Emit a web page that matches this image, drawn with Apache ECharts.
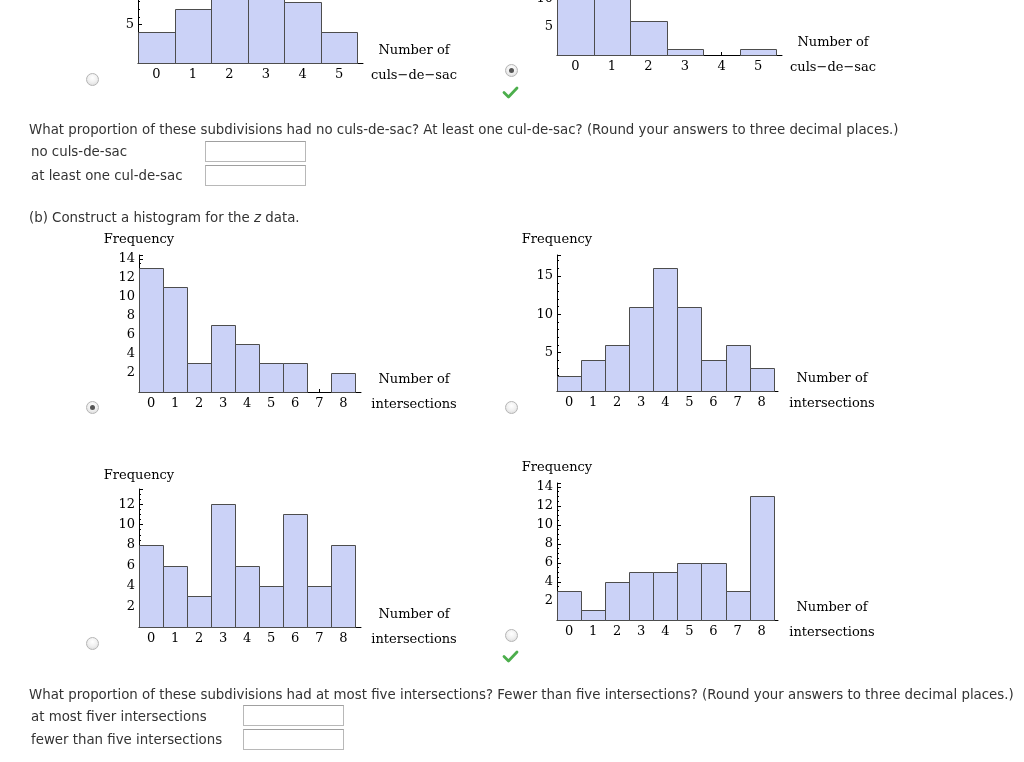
<!DOCTYPE html>
<html>
<head>
<meta charset="utf-8">
<script src="https://cdn.jsdelivr.net/npm/echarts@6/dist/echarts.min.js"></script>
<style>
  html, body { margin:0; padding:0; background:#fff; }
  #page { position:relative; width:1024px; height:762px; overflow:hidden; }
  #chart { position:absolute; left:0; top:-100px; width:1024px; height:862px; }
  .t { position:absolute; font-family:"DejaVu Sans", Verdana, sans-serif; font-size:13.35px; color:#333; line-height:16px; white-space:nowrap; z-index:2; }
  .box { position:absolute; width:99px; height:19px; border:1px solid #b8b8b8; border-top-color:#a0a0a0; background:#fff; box-sizing:border-box; z-index:2; }
  .radio { position:absolute; width:13px; height:13px; border-radius:50%; box-sizing:border-box; border:1px solid #b4b4b4;
           background:radial-gradient(circle at 50% 35%, #ffffff 0%, #f0f0f0 50%, #d6d6d6 100%); z-index:2; }
  .radio.on::after { content:""; position:absolute; left:3px; top:3px; width:5px; height:5px; border-radius:50%; background:#555; }
  .chk { position:absolute; z-index:2; }
</style>
</head>
<body>
<div id="page">
  <div id="chart"></div>

  <div class="radio" style="left:86px; top:73px;"></div>
  <div class="radio on" style="left:505px; top:64px;"></div>
  <svg class="chk" style="left:502px; top:86px;" width="17" height="13"><polyline points="2,6.5 6.5,11 15,2" fill="none" stroke="#4cae4c" stroke-width="2.8" stroke-linejoin="round" stroke-linecap="round"/></svg>

  <div class="t" style="left:29px; top:122px;">What proportion of these subdivisions had no culs-de-sac? At least one cul-de-sac? (Round your answers to three decimal places.)</div>
  <div class="t" style="left:31px; top:144px;">no culs-de-sac</div>
  <div class="box" style="left:205px; top:141px; width:101px; height:21px;"></div>
  <div class="t" style="left:31px; top:168px;">at least one cul-de-sac</div>
  <div class="box" style="left:205px; top:165px; width:101px; height:21px;"></div>
  <div class="t" style="left:29px; top:210px;">(b) Construct a histogram for the <i>z</i> data.</div>

  <div class="radio on" style="left:86px; top:401px;"></div>
  <div class="radio" style="left:505px; top:401px;"></div>
  <div class="radio" style="left:86px; top:637px;"></div>
  <div class="radio" style="left:505px; top:629px;"></div>
  <svg class="chk" style="left:502px; top:650px;" width="17" height="13"><polyline points="2,6.5 6.5,11 15,2" fill="none" stroke="#4cae4c" stroke-width="2.8" stroke-linejoin="round" stroke-linecap="round"/></svg>

  <div class="t" style="left:29px; top:687px;">What proportion of these subdivisions had at most five intersections? Fewer than five intersections? (Round your answers to three decimal places.)</div>
  <div class="t" style="left:31px; top:709px;">at most fiver intersections</div>
  <div class="box" style="left:243px; top:705px; width:101px; height:21px;"></div>
  <div class="t" style="left:31px; top:732px;">fewer than five intersections</div>
  <div class="box" style="left:243px; top:729px; width:101px; height:21px;"></div>
</div>

<script>
// ---- data ----
const culsCats = [0, 1, 2, 3, 4, 5];
const culsOptionA = [4, 7, 14, 16, 8, 4];   // bars 2 and 3 are cut off in the picture (estimated)
const culsOptionB = [17, 22, 6, 1, 0, 1];
const interCats = [0, 1, 2, 3, 4, 5, 6, 7, 8];
const interOptionA = [13, 11, 3, 7, 5, 3, 3, 0, 2];
const interOptionB = [2, 4, 6, 11, 16, 11, 4, 6, 3];
const interOptionC = [8, 6, 3, 12, 6, 4, 11, 4, 8];
const interOptionD = [3, 1, 4, 5, 5, 6, 6, 3, 13];
const yTitle = 'Frequency';
const culsTitle = 'Number of\nculs\u2212de\u2212sac';
const interTitle = 'Number of\nintersections';

// ---- layout of the six panels (pixels, chart canvas starts 100px above the page) ----
const OFF = 100;
const panels = [
  { cats: culsCats,  vals: culsOptionA,  xName: culsTitle,  left:138, top:-73, width:225, height:136, xmax:5.653, ymax:17.7,  yInt:5, minor:5, nameGap:51, yGap:9 },
  { cats: culsCats,  vals: culsOptionB,  xName: culsTitle,  left:557, top:-81, width:225, height:136, xmax:5.653, ymax:23.45, yInt:5, minor:5, nameGap:51, yGap:9 },
  { cats: interCats, vals: interOptionA, xName: interTitle, left:139, top:255, width:222, height:137, xmax:8.735, ymax:14.42, yInt:2, minor:4, nameGap:53, yGap:9 },
  { cats: interCats, vals: interOptionB, xName: interTitle, left:557, top:255, width:221, height:136, xmax:8.68,  ymax:17.73, yInt:5, minor:5, nameGap:54, yGap:9 },
  { cats: interCats, vals: interOptionC, xName: interTitle, left:139, top:489, width:222, height:138, xmax:8.735, ymax:13.48, yInt:2, minor:4, nameGap:53, yGap:7 },
  { cats: interCats, vals: interOptionD, xName: interTitle, left:557, top:483, width:221, height:137, xmax:8.68,  ymax:14.42, yInt:2, minor:4, nameGap:54, yGap:9 }
];

const FONT = 'DejaVu Serif';
const grid = [], xAxis = [], yAxis = [], series = [];
panels.forEach((p, i) => {
  grid.push({ left: p.left, top: p.top + OFF, width: p.width, height: p.height, containLabel: false });
  xAxis.push({
    gridIndex: i, type: 'value', min: -0.5, max: p.xmax,
    axisLine: { show: true, onZero: false, lineStyle: { color: '#000', width: 1 } },
    axisTick: { show: true, inside: true, length: 3, customValues: p.cats, lineStyle: { color: '#000' } },
    axisLabel: { customValues: p.cats, fontFamily: FONT, fontSize: 13, color: '#000', margin: 5 },
    splitLine: { show: false },
    name: p.xName, nameLocation: 'end', nameGap: p.nameGap,
    nameTextStyle: { fontFamily: FONT, fontSize: 13, color: '#000', align: 'center', verticalAlign: 'middle', lineHeight: 25 }
  });
  yAxis.push({
    gridIndex: i, type: 'value', min: 0, max: p.ymax, interval: p.yInt,
    axisLine: { show: true, onZero: false, lineStyle: { color: '#000', width: 1 } },
    axisTick: { show: true, inside: true, length: 4, lineStyle: { color: '#000' } },
    minorTick: { show: true, splitNumber: p.minor, length: 2, lineStyle: { color: '#000' } },
    splitLine: { show: false },
    axisLabel: { fontFamily: FONT, fontSize: 13, color: '#000', margin: 4,
                 formatter: v => (v > 0 && Math.abs(v % p.yInt) < 1e-9) ? String(v) : '' },
    name: yTitle, nameLocation: 'end', nameGap: p.yGap,
    nameTextStyle: { fontFamily: FONT, fontSize: 13, color: '#000', align: 'center' }
  });
  series.push({
    type: 'custom', xAxisIndex: i, yAxisIndex: i, clip: false,
    data: p.cats.map((c, k) => [c, p.vals[k]]),
    renderItem: function (params, api) {
      const x = api.value(0), y = api.value(1);
      if (!y) return null;
      const a = api.coord([x - 0.5, y]);
      const b = api.coord([x + 0.5, 0]);
      return { type: 'rect', shape: { x: Math.round(a[0]) + 0.5, y: Math.round(a[1]) + 0.5, width: Math.round(b[0]) - Math.round(a[0]), height: Math.round(b[1]) - Math.round(a[1]) },
               style: { fill: '#cbd2f7', stroke: '#4d4d4d', lineWidth: 1 } };
    }
  });
});

const chart = echarts.init(document.getElementById('chart'), null, { renderer: 'canvas' });
chart.setOption({ animation: false, backgroundColor: '#fff', grid, xAxis, yAxis, series });
</script>
</body>
</html>
